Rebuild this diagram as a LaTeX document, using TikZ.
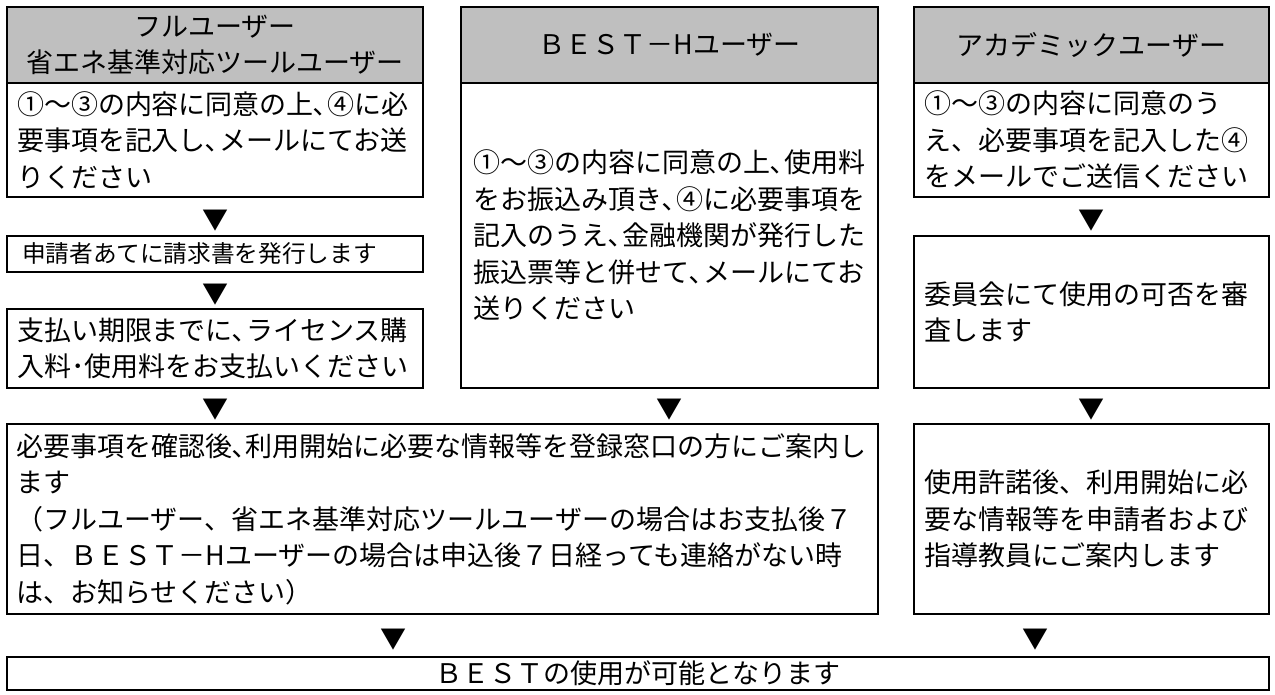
\documentclass[tikz,border=0pt]{standalone}
\usepackage{fontspec}
\setmainfont{Noto Sans CJK JP}
\usepackage{xcolor}
\usetikzlibrary{calc,positioning}
\definecolor{hdrgray}{RGB}{191,191,191}

\begin{document}
\begin{tikzpicture}[x=1pt,y=-1pt,
    box/.style={draw, line width=2.4pt, inner sep=0pt, align=left, font=\fontsize{27}{36.5}\selectfont},
    hdr/.style={box, fill=hdrgray, align=center},
    tri/.style={inner sep=0pt, yshift=-4pt, font=\fontsize{26}{26}\selectfont}]
    \useasboundingbox (0,0) rectangle (1275,695);

    \node[hdr, minimum width=416, minimum height=76, text width=396] (fullh) at (215,45) {フルユーザー\\省エネ基準対応ツールユーザー};
    \node[hdr, minimum width=417, minimum height=76, text width=392] (besth) at (669.5,45) {ＢＥＳＴ－Hユーザー};
    \node[hdr, minimum width=355, minimum height=76, text width=335] (acah) at (1091.5,45) {アカデミックユーザー};

    \node[box, minimum width=416, minimum height=114, text width=396] (full1) at (215,140) {①～③の内容に同意の上､④に必\\要事項を記入し､メールにてお送\\りください};
    \node[box, minimum width=416, minimum height=36, text width=386, font=\fontsize{23.7}{28}\selectfont] (full2) at (215,254) {申請者あてに請求書を発行します};
    \node[box, minimum width=416, minimum height=79, text width=396] (full3) at (215,348.5) {支払い期限までに､ライセンス購\\入料･使用料をお支払いください};

    \node[box, minimum width=417, minimum height=305, text width=392] (best1) at (669.5,235.5) {①～③の内容に同意の上､使用料\\をお振込み頂き､④に必要事項を\\記入のうえ､金融機関が発行した\\振込票等と併せて､メールにてお\\送りください};

    \node[box, minimum width=355, minimum height=114, text width=335] (aca1) at (1091.5,140) {①～③の内容に同意のう\\え、必要事項を記入した④\\をメールでご送信ください};
    \node[box, minimum width=355, minimum height=152, text width=335] (aca2) at (1091.5,312) {委員会にて使用の可否を審\\査します};

    \node[box, minimum width=871, minimum height=190, text width=852] (guide) at (442.5,519) {必要事項を確認後､利用開始に必要な情報等を登録窓口の方にご案内し\\ます\\（フルユーザー、省エネ基準対応ツールユーザーの場合はお支払後７\\日、ＢＥＳＴ－Hユーザーの場合は申込後７日経っても連絡がない時\\は、お知らせください）};
    \node[box, minimum width=355, minimum height=190, text width=335] (aca3) at (1091.5,519) {使用許諾後、利用開始に必\\要な情報等を申請者および\\指導教員にご案内します};

    \node[box, minimum width=1262, minimum height=33, align=center] (ready) at (638,673.5) {ＢＥＳＴの使用が可能となります};

    \node[tri] (t1) at ($(full1.south)!.5!(full2.north)$) {▼};
    \node[tri] (t2) at ($(full2.south)!.5!(full3.north)$) {▼};
    \node[tri] (t3) at ($(aca1.south)!.5!(aca2.north)$) {▼};
    \node[tri] (t4) at ($(full3.south)!.5!(full3.south |- guide.north)$) {▼};
    \node[tri] (t5) at ($(best1.south)!.5!(best1.south |- guide.north)$) {▼};
    \node[tri] (t6) at ($(aca2.south)!.5!(aca3.north)$) {▼};
    \node[tri] (t7) at (393,636) {▼};
    \node[tri] (t8) at (1035,636) {▼};
\end{tikzpicture}
\end{document}
